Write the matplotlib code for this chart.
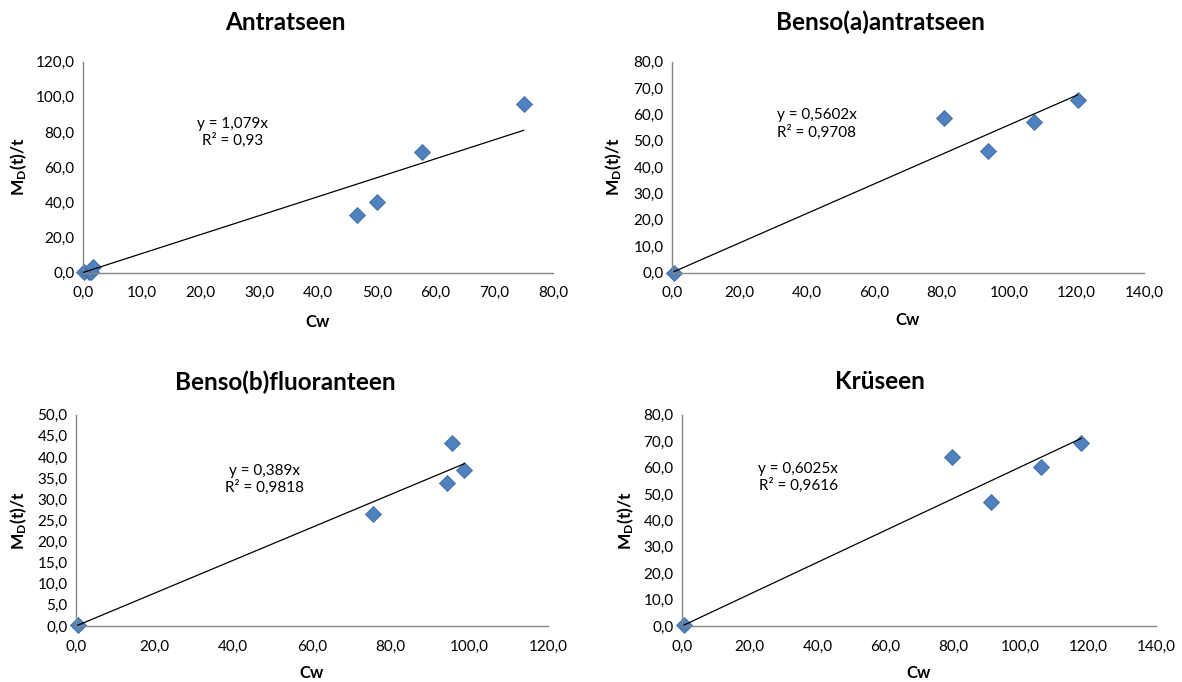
import numpy as np
import matplotlib
matplotlib.use("Agg")
import matplotlib.pyplot as plt
from matplotlib.ticker import FuncFormatter, MultipleLocator

plt.rcParams['font.family'] = ['Lato', 'DejaVu Sans']
plt.rcParams['mathtext.fontset'] = 'custom'
plt.rcParams['mathtext.rm'] = 'Lato'
plt.rcParams['mathtext.bf'] = 'Lato:bold'

# ---- data ----
titles = ["Antratseen", "Benso(a)antratseen", "Benso(b)fluoranteen", "Krüseen"]

ant_x = [0.1, 1.0, 1.4, 1.7, 46.7, 50.0, 57.7, 75.0]
ant_y = [0.1, 0.2, 0.5, 3.0, 33.0, 40.0, 68.6, 95.7]

baa_x = [0.6, 80.8, 93.7, 107.4, 120.3]
baa_y = [0.0, 58.6, 46.1, 57.3, 65.4]

bbf_x = [0.45, 75.6, 94.3, 95.5, 98.7]
bbf_y = [0.15, 26.6, 33.8, 43.4, 37.0]

kry_x = [0.6, 79.6, 91.4, 105.9, 117.9]
kry_y = [0.3, 64.1, 46.9, 60.2, 69.3]

slopes = [1.079, 0.5602, 0.389, 0.6025]
eq_labels = ["y = 1,079x\nR² = 0,93", "y = 0,5602x\nR² = 0,9708",
             "y = 0,389x\nR² = 0,9818", "y = 0,6025x\nR² = 0,9616"]

xmax = [80, 140, 120, 140]
xstep = [10, 20, 20, 20]
ymax = [120, 80, 50, 80]
ystep = [20, 10, 5, 10]

datasets = [(ant_x, ant_y), (baa_x, baa_y), (bbf_x, bbf_y), (kry_x, kry_y)]

# ---- layout (pixels) ----
W, H = 1182, 682
boxes = [(83, 553, 61.7, 272.5), (672, 1144, 61.7, 272.5),
         (76, 548, 414.7, 626.0), (682, 1156, 414.7, 626.0)]
title_pos = [(285, 22), (880, 22), (285, 382), (880, 382)]
ylab_x = [19, 614, 19, 626]
xlab_y = [322, 320, 673, 673]
eq_pos = [(0.319, 0.664), (0.307, 0.704), (0.40, 0.693), (0.245, 0.703)]

fig = plt.figure(figsize=(W / 100, H / 100), dpi=100)
fmt = FuncFormatter(lambda v, p: f"{v:.1f}".replace(".", ","))
blue = "#4F81BD"
axcol = "#868686"

for i in range(4):
    l, r, t, b = boxes[i]
    ax = fig.add_axes([l / W, 1 - b / H, (r - l) / W, (b - t) / H])
    xs, ys = datasets[i]
    ax.set_xlim(0, xmax[i])
    ax.set_ylim(0, ymax[i])
    ax.xaxis.set_major_locator(MultipleLocator(xstep[i]))
    ax.yaxis.set_major_locator(MultipleLocator(ystep[i]))
    ax.xaxis.set_major_formatter(fmt)
    ax.yaxis.set_major_formatter(fmt)
    for s in ['top', 'right']:
        ax.spines[s].set_visible(False)
    for s in ['left', 'bottom']:
        ax.spines[s].set_color(axcol)
        ax.spines[s].set_linewidth(1.0)
    ax.tick_params(length=0, labelsize=11, colors='black', pad=6)
    ax.tick_params(axis='x', pad=10)
    # trendline
    tx = np.linspace(min(xs), max(xs), 50)
    ax.plot(tx, slopes[i] * tx, color='black', lw=0.9, zorder=3)
    ax.plot(xs, ys, linestyle='none', marker='D', ms=8.5, mfc=blue,
            mec="#3E6DA8", mew=0.6, zorder=2, clip_on=False)
    ax.text(eq_pos[i][0], eq_pos[i][1], eq_labels[i], transform=ax.transAxes,
            ha='center', va='center', fontsize=11, linespacing=1.2)
    cx = (l + r) / 2
    fig.text(cx / W, 1 - xlab_y[i] / H, "Cw", ha='center', va='center',
             fontsize=12, fontweight='bold')
    fig.text(ylab_x[i] / W, 1 - ((t + b) / 2) / H, r"$\mathbf{M_D(t)/t}$",
             ha='center', va='center', rotation=90, fontsize=12.5)
    fig.text(title_pos[i][0] / W, 1 - title_pos[i][1] / H, titles[i],
             ha='center', va='center', fontsize=17.5, fontweight='bold')

fig.savefig("out.png", dpi=100)
